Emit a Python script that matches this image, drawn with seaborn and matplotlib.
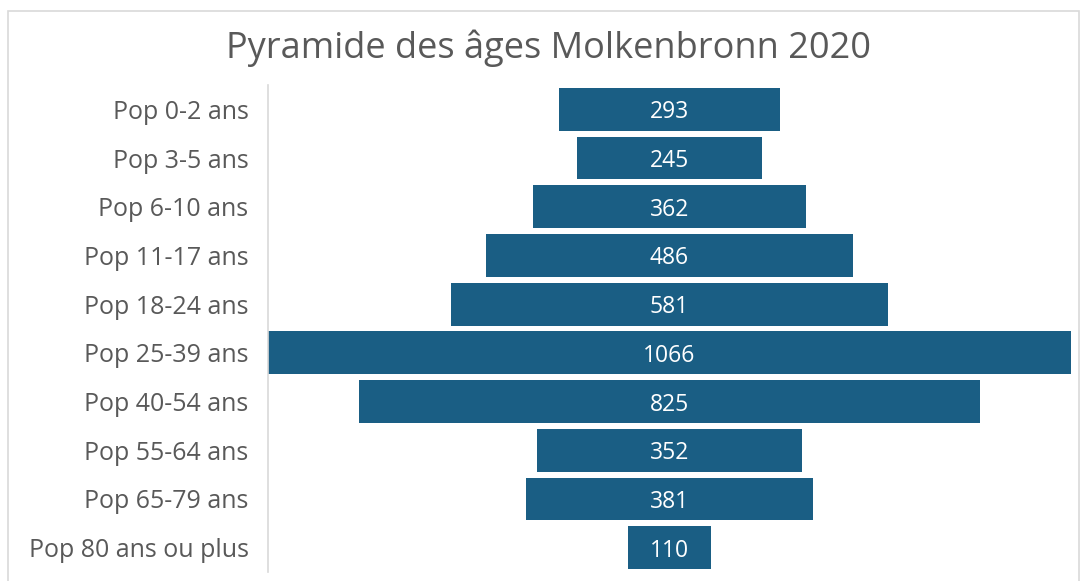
import matplotlib
matplotlib.use("Agg")
import matplotlib.pyplot as plt
import seaborn as sns
import pandas as pd

categories = ["Pop 0-2 ans", "Pop 3-5 ans", "Pop 6-10 ans", "Pop 11-17 ans", "Pop 18-24 ans",
              "Pop 25-39 ans", "Pop 40-54 ans", "Pop 55-64 ans", "Pop 65-79 ans", "Pop 80 ans ou plus"]
values = [293, 245, 362, 486, 581, 1066, 825, 352, 381, 110]
title = "Pyramide des âges Molkenbronn 2020"

sns.set_theme(style="white")
plt.rcParams['font.family'] = ['Open Sans', 'DejaVu Sans']

df = pd.DataFrame({"cat": categories, "val": values})
df["left"] = -df["val"] / 2

fig = plt.figure(figsize=(10.84, 5.81), dpi=100)
ax = fig.add_axes([268/1084, 1 - 572/581, (1071-268)/1084, (572-85)/581])

color = "#1a5e84"
ax.barh(df["cat"], df["val"], left=df["left"], height=0.88, color=color, edgecolor="none")
for i, v in enumerate(values):
    ax.text(0, i, str(v), ha="center", va="center_baseline", color="white", fontsize=16.5)

vmax = max(values)
ax.set_xlim(-vmax/2, vmax/2)
ax.set_ylim(len(values) - 0.5, -0.5)
ax.set_xticks([])
ax.tick_params(axis="y", length=0, pad=14, labelsize=18, labelcolor="#595959")
for s in ["top", "right", "bottom"]:
    ax.spines[s].set_visible(False)
ax.spines["left"].set_color("#d9d9d9")
ax.spines["left"].set_linewidth(1.2)

fig.text(548/1084, 1 - 48/581, title, ha="center", va="center", fontsize=26, color="#595959")

# figure border
border = plt.Rectangle((8/1084, -0.01), (1079-8)/1084, 1 - 11/581 + 0.01, transform=fig.transFigure,
                       fill=False, edgecolor="#d9d9d9", linewidth=1.2)
fig.patches.append(border)

fig.savefig("out.png", dpi=100)
